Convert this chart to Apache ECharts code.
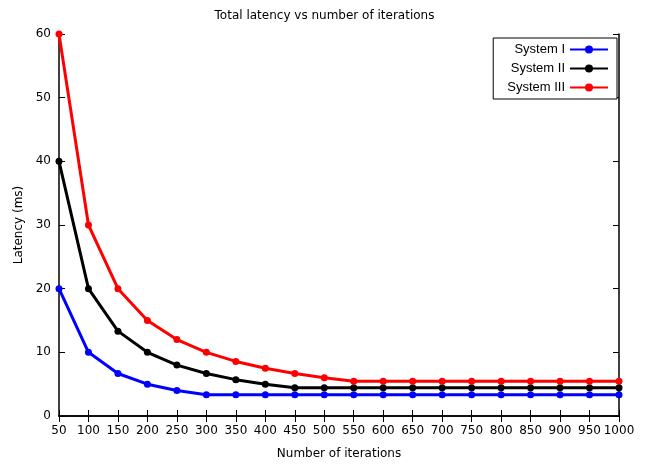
<!DOCTYPE html>
<html>
<head>
<meta charset="utf-8">
<script src="https://cdn.jsdelivr.net/npm/echarts@6/dist/echarts.min.js"></script>
<style>
html,body{margin:0;padding:0;background:#fff;}
#main{width:649px;height:464px;}
</style>
</head>
<body>
<div id="main"></div>
<script>
// 迭代次数
var iterations = ['50','100','150','200','250','300','350','400','450','500','550','600','650','700','750','800','850','900','950','1000'];
var systemI   = [20, 10, 6.67, 5, 4, 3.33, 3.33, 3.33, 3.33, 3.33, 3.33, 3.33, 3.33, 3.33, 3.33, 3.33, 3.33, 3.33, 3.33, 3.33];
var systemII  = [40, 20, 13.33, 10, 8, 6.67, 5.71, 5, 4.44, 4.44, 4.44, 4.44, 4.44, 4.44, 4.44, 4.44, 4.44, 4.44, 4.44, 4.44];
var systemIII = [60, 30, 20, 15, 12, 10, 8.57, 7.5, 6.67, 6, 5.45, 5.45, 5.45, 5.45, 5.45, 5.45, 5.45, 5.45, 5.45, 5.45];
var yTicks = [0, 10, 20, 30, 40, 50, 60];

var font = 'DejaVu Sans';
function makeSeries(name, data, color) {
    return {
        name: name,
        type: 'line',
        data: data,
        symbol: 'circle',
        symbolSize: 7,
        color: color,
        lineStyle: {width: 3, color: color},
        itemStyle: {color: color},
        animation: false
    };
}

var option = {
    animation: false,
    title: {
        text: 'Total latency vs number of iterations',
        left: 'center',
        top: 5,
        textStyle: {fontFamily: font, fontSize: 12, fontWeight: 'normal', color: '#000'}
    },
    legend: {
        orient: 'vertical',
        right: 32,
        top: 38,
        align: 'right',
        itemWidth: 38,
        itemHeight: 10,
        itemGap: 6,
        padding: [5, 8, 5, 14],
        borderColor: '#000',
        borderWidth: 1,
        backgroundColor: '#fff',
        textStyle: {fontFamily: 'Liberation Sans', fontSize: 13, color: '#000'},
        data: ['System I', 'System II', 'System III']
    },
    grid: {left: 59, right: 30, top: 34, bottom: 48, containLabel: false, outerBoundsMode: 'none'},
    xAxis: [
        {
            type: 'category',
            boundaryGap: false,
            data: iterations,
            name: 'Number of iterations',
            nameLocation: 'middle',
            nameGap: 32,
            nameTextStyle: {fontFamily: font, fontSize: 12, color: '#000'},
            axisLine: {lineStyle: {color: '#000', width: 1.5}},
            axisTick: {inside: true, length: 6, alignWithLabel: true, lineStyle: {color: '#000'}},
            axisLabel: {fontFamily: font, fontSize: 12, color: '#000', interval: 0, margin: 9},
            splitLine: {show: false}
        },
        {
            type: 'category',
            position: 'top',
            boundaryGap: false,
            data: iterations,
            axisLine: {lineStyle: {color: '#000', width: 1.5}},
            axisTick: {show: true, inside: true, length: 6, interval: 0, lineStyle: {color: '#000'}},
            axisLabel: {show: false, interval: 0},
            splitLine: {show: false}
        }
    ],
    yAxis: [
        {
            type: 'value',
            min: yTicks[0],
            max: yTicks[yTicks.length - 1],
            interval: 10,
            name: 'Latency (ms)',
            nameLocation: 'middle',
            nameGap: 34,
            nameTextStyle: {fontFamily: font, fontSize: 12, color: '#000'},
            axisLine: {show: true, lineStyle: {color: '#000', width: 1.5}},
            axisTick: {show: true, inside: true, length: 6, lineStyle: {color: '#000'}},
            axisLabel: {fontFamily: font, fontSize: 12, color: '#000', margin: 8},
            splitLine: {show: false}
        },
        {
            type: 'value',
            position: 'right',
            min: yTicks[0],
            max: yTicks[yTicks.length - 1],
            interval: 10,
            axisLine: {show: true, lineStyle: {color: '#000', width: 1.5}},
            axisTick: {show: true, inside: true, length: 6, lineStyle: {color: '#000'}},
            axisLabel: {show: false},
            splitLine: {show: false}
        }
    ],
    series: [
        makeSeries('System I', systemI, '#0000ff'),
        makeSeries('System II', systemII, '#000000'),
        makeSeries('System III', systemIII, '#ff0000')
    ]
};

var chart = echarts.init(document.getElementById('main'));
chart.setOption(option);
</script>
</body>
</html>
